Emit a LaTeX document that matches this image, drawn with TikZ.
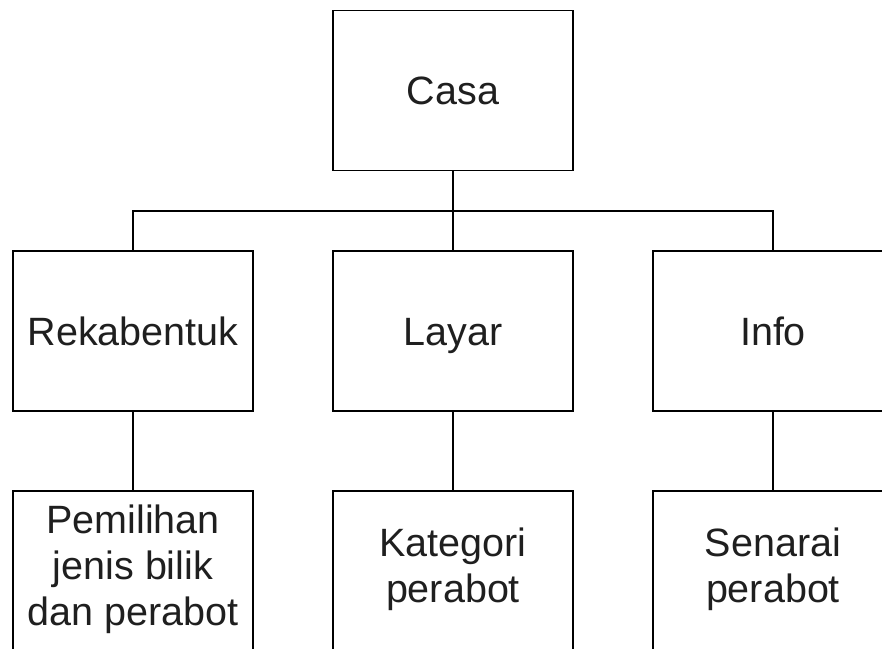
\documentclass[tikz,border=0pt]{standalone}
\usepackage{fontspec}
\setmainfont{Liberation Sans}
\newcommand{\boxstrut}{\vrule width 0pt height 40pt depth 11.8pt}
\begin{document}
\begin{tikzpicture}[x=1pt,y=-1pt,
  box/.style={draw=black, line width=1.6pt, minimum width=240pt, minimum height=160pt,
    inner sep=0pt, align=center, font=\fontsize{39.5}{46}\selectfont, text=black!88,
    execute at begin node=\boxstrut, execute at end node=\boxstrut},
  link/.style={draw=black, line width=1.6pt}]
\useasboundingbox (0,0) rectangle (882,648);
\clip (0,0) rectangle (882,648);
\node[box] (casa) at (453,90.5) {Casa};
\node[box] (rek) at (133,331) {Rekabentuk};
\node[box] (lay) at (453,331) {Layar};
\node[box] (info) at (773,331) {Info};
\node[box] (pem) at (133,571) {Pemilihan\\jenis bilik\\dan perabot};
\node[box] (kat) at (453,571) {Kategori\\perabot};
\node[box] (sen) at (773,571) {Senarai\\perabot};
\coordinate (bus) at (453,211);
\draw[link] (casa.south) -- (lay.north);
\draw[link] (rek.north) |- (bus) -| (info.north);
\draw[link] (rek.south) -- (pem.north);
\draw[link] (lay.south) -- (kat.north);
\draw[link] (info.south) -- (sen.north);
\end{tikzpicture}
\end{document}
